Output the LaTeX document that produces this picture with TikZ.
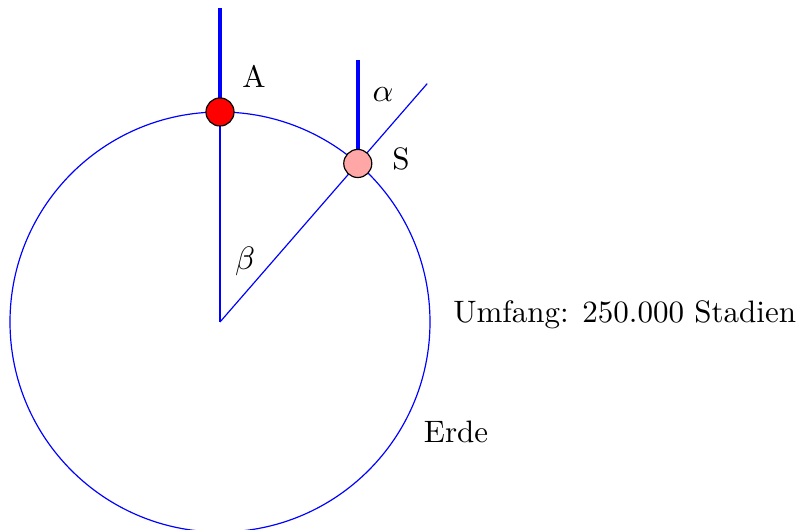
\documentclass[tikz,border=0pt]{standalone}
\usetikzlibrary{calc}
\tikzset{
  stick/.style={blue, line width=1.4pt},
  marker/.style={circle, draw=black, inner sep=0pt, minimum size=9.5pt}
}
\begin{document}
\begin{tikzpicture}[font=\fontsize{10.5}{12.6}\selectfont]

	% frame
	\useasboundingbox (-2.619,-2.476) rectangle (6.857,3.833);

	% earth
	\coordinate (O) at (0,0);
	\coordinate (a) at (90:2.5);
	\coordinate (s) at (49:2.5);
	\coordinate (ray) at (49:3.76);
	\coordinate (aTop) at ($(a)+(0,1.24)$);
	\coordinate (sTop) at ($(s)+(0,1.23)$);
	\draw[blue] (O) circle (2.5);

	% radii
	\draw[blue] (O) -- (a);
	\draw[blue] (O) -- (ray);

	% sticks
	\draw[stick] (a) -- (aTop);
	\draw[stick] (s) -- (sTop);

	% the two towns
	\node[marker, fill=red] (A) at (a) {};
	\node[marker, fill=red!35] (S) at (s) {};

	\node[anchor=base] (labA) at (0.405,2.786) {A};
	\node[anchor=base] (labS) at (2.155,1.81) {S};
	\node[anchor=base] (alpha) at (1.94,2.63) {$\alpha$};
	\node[anchor=base] (beta) at (0.30,0.62) {$\beta$};

	\node[anchor=base west, inner sep=0pt] (umfang) at (2.77,-0.01) {Umfang: 250.000 Stadien};
	\node[anchor=base] (erde) at (2.81,-1.44) {Erde};

\end{tikzpicture}
\end{document}
